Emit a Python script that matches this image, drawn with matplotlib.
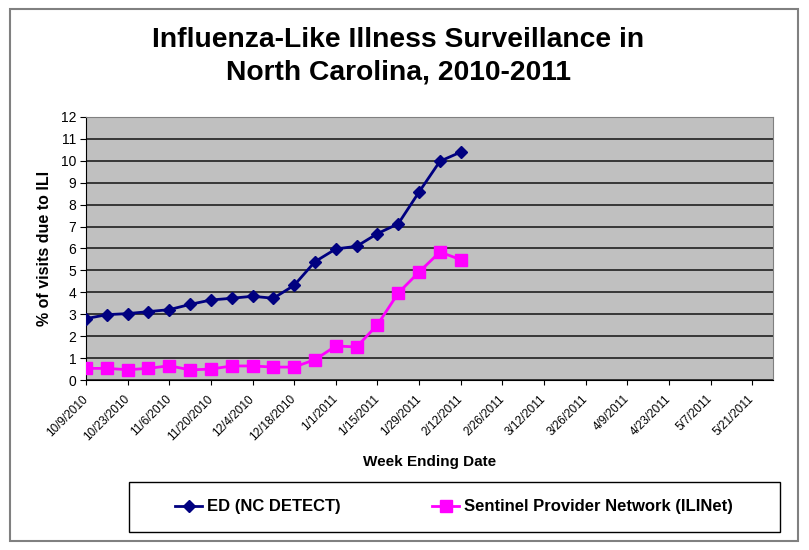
import numpy as np
import matplotlib
matplotlib.use('Agg')
import matplotlib.pyplot as plt
import matplotlib.transforms as mtransforms
from matplotlib.patches import Rectangle
from matplotlib.lines import Line2D

plt.rcParams['font.family'] = ['Liberation Sans', 'DejaVu Sans']

# weekly categories, 10/9/2010 onward (34 weeks on the axis)
n_weeks = 34
tick_labels = ['10/9/2010', '10/23/2010', '11/6/2010', '11/20/2010', '12/4/2010',
               '12/18/2010', '1/1/2011', '1/15/2011', '1/29/2011', '2/12/2011',
               '2/26/2011', '3/12/2011', '3/26/2011', '4/9/2011', '4/23/2011',
               '5/7/2011', '5/21/2011', '']

ed_ncdetect = [2.80, 2.98, 3.03, 3.12, 3.21, 3.45, 3.65, 3.73, 3.82, 3.73,
               4.32, 5.40, 5.98, 6.10, 6.68, 7.13, 8.58, 9.98, 10.40]
ilinet = [0.53, 0.53, 0.47, 0.53, 0.65, 0.46, 0.50, 0.64, 0.64, 0.59,
          0.59, 0.93, 1.55, 1.51, 2.52, 3.97, 4.93, 5.84, 5.49]

fig = plt.figure(figsize=(8.09, 5.5), dpi=100)
fig.patch.set_facecolor('white')

# outer chart frame
fig.patches.append(Rectangle((10 / 809, 9 / 550), 788 / 809, 532 / 550,
                             transform=fig.transFigure, fill=False,
                             edgecolor='#808080', lw=1.5))

ax = fig.add_axes([86 / 809, 1 - 380 / 550, 687 / 809, 263 / 550])
ax.set_facecolor('#C0C0C0')

x = np.arange(len(ed_ncdetect))
ax.plot(x, ed_ncdetect, color='#000080', lw=2, marker='D', ms=6,
        label='ED (NC DETECT)', zorder=3)
ax.plot(x, ilinet, color='#FF00FF', lw=2, marker='s', ms=8,
        label='Sentinel Provider Network (ILINet)', zorder=3)

ax.set_xlim(0, n_weeks - 1)
ax.set_ylim(0, 12)
ax.set_yticks(range(0, 13))
ax.yaxis.grid(True, color='#202020', lw=1.2)
ax.set_axisbelow(True)

ax.set_xticks(range(0, n_weeks, 2))
ax.set_xticklabels(tick_labels[:len(range(0, n_weeks, 2))], rotation=45,
                   ha='right', va='center', rotation_mode='anchor', fontsize=8.5)
shift = mtransforms.ScaledTranslation(-9 / 100, 0, fig.dpi_scale_trans)
for lab in ax.get_xticklabels():
    lab.set_transform(lab.get_transform() + shift)
ax.tick_params(axis='y', labelsize=10, length=4, direction='out', pad=3)
ax.tick_params(axis='x', length=3.5, direction='out', pad=9)

for s in ['top', 'right']:
    ax.spines[s].set_color('#808080')
for s in ['left', 'bottom']:
    ax.spines[s].set_color('black')

ax.set_xlabel('Week Ending Date', fontsize=11, fontweight='bold', labelpad=8)
ax.set_ylabel('% of visits due to ILI', fontsize=11.5, fontweight='bold', labelpad=6)

fig.text(398 / 809, 1 - 40 / 550, 'Influenza-Like Illness Surveillance in',
         ha='center', va='center', fontsize=20.3, fontweight='bold')
fig.text(398 / 809, 1 - 73 / 550, 'North Carolina, 2010-2011',
         ha='center', va='center', fontsize=20.3, fontweight='bold')

# legend box
fig.patches.append(Rectangle((129 / 809, 1 - 532 / 550), 651 / 809, 50 / 550,
                             transform=fig.transFigure, fill=False,
                             edgecolor='black', lw=1))
h1 = Line2D([], [], color='#000080', lw=2, marker='D', ms=6)
h2 = Line2D([], [], color='#FF00FF', lw=2, marker='s', ms=8)
fig.legend([h1, h2], ['ED (NC DETECT)', 'Sentinel Provider Network (ILINet)'],
           loc='center', bbox_to_anchor=(454 / 809, 1 - 507 / 550), ncol=2,
           frameon=False, prop={'weight': 'bold', 'size': 12},
           handlelength=1.6, handletextpad=0.3, columnspacing=5.5)

fig.savefig('out.png', dpi=100)
